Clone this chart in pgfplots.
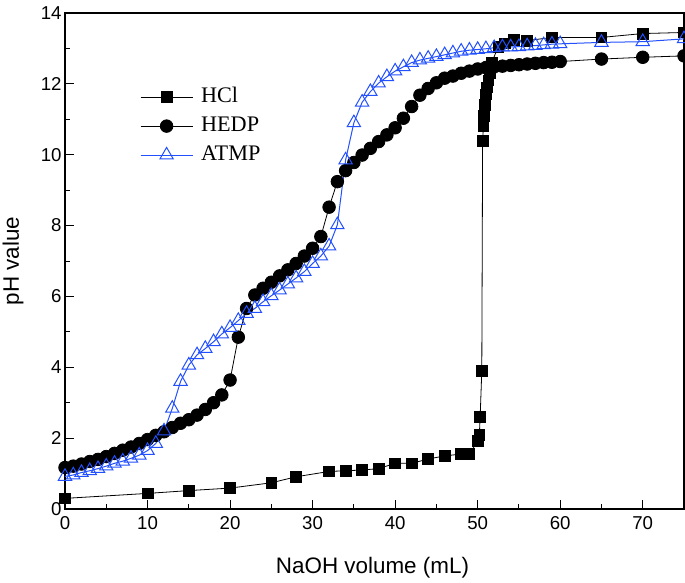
\documentclass[border=0pt]{standalone}
\usepackage{fontspec}
\setmainfont{Liberation Sans}
\newfontfamily\timesfont{Liberation Serif}
\usepackage{pgfplots}
\pgfplotsset{compat=1.18}
\definecolor{atmpblue}{RGB}{35,80,255}
\begin{document}
\begin{tikzpicture}
\begin{axis}[
  name=ax,
  scale only axis,
  width=619bp, height=496bp,
  xmin=0, xmax=75, ymin=0, ymax=14,
  xtick={0,10,...,70}, ytick={0,2,...,14},
  minor x tick num=1, minor y tick num=1,
  xtick pos=bottom, ytick pos=left,
  tick align=inside,
  major tick length=9bp, minor tick length=5bp,
  every tick/.style={black, line width=1bp},
  axis line style={line width=1.3bp},
  /pgf/number format/assume math mode=true,
  tick label style={font=\fontsize{18.7}{22}\selectfont},
  xticklabel style={yshift=-4bp},
  label style={font=\fontsize{22.5}{26}\selectfont},
  xlabel={NaOH volume (mL)},
  ylabel={pH value},
  xlabel style={at={(axis description cs:0.5,0)}, anchor=base, yshift=-64bp, xshift=-2bp},
  ylabel style={at={(axis description cs:0,0.5)}, anchor=center, yshift=52bp},
  legend style={draw=none, fill=none, font=\timesfont\fontsize{22.3}{25}\selectfont,
    at={(0.121,0.851)}, anchor=north west, row sep=9bp, inner sep=0pt,
    nodes={inner sep=0pt, text height=15bp, text depth=5bp},
    /tikz/every odd column/.append style={column sep=8bp}},
  legend cell align=left,
  legend image code/.code={\draw[mark repeat=2,mark phase=2] plot coordinates {(0bp,0bp) (26bp,0bp) (52bp,0bp)};},
]
\addplot[black, line width=0.8bp, mark=square*, mark size=5.4bp, mark options={solid}] coordinates {
(0,0.30) (10,0.44) (15,0.52) (20,0.59) (25,0.74) (28,0.91) (32,1.06) (34,1.08) (36,1.10) (38,1.14)
(40,1.29) (42,1.29) (44,1.41) (46,1.50) (48,1.55) (49,1.55) (50,1.92) (50.2,2.09) (50.3,2.59) (50.5,3.90)
(50.6,10.40) (50.7,10.80) (50.8,11.10) (50.9,11.40) (51.0,11.70) (51.1,11.90) (51.3,12.10) (51.5,12.30) (51.7,12.60)
(52.5,13.05) (53.3,13.14) (54.4,13.24) (56,13.22) (59,13.31) (65,13.31) (70,13.42) (75,13.45)
};
\addlegendentry{HCl}
\addplot[black, line width=0.8bp, mark=*, mark size=6.3bp, mark options={solid}] coordinates {
(0,1.17) (1,1.21) (2,1.27) (3,1.34) (4,1.40) (5,1.48) (6,1.57) (7,1.66) (8,1.75) (9,1.85)
(10,1.96) (11,2.08) (12,2.18) (13,2.30) (14,2.42) (15,2.52) (16,2.65) (17,2.81) (18,3.00) (19,3.22)
(20,3.64) (21,4.85) (22,5.66) (23,6.04) (24,6.23) (25,6.40) (26,6.58) (27,6.75) (28,6.93) (29,7.14)
(30,7.36) (31,7.69) (32,8.52) (33,9.24) (34,9.55) (35,9.78) (36,9.99) (37,10.18) (38,10.37) (39,10.56)
(40,10.76) (41,11.03) (42,11.36) (43,11.68) (44,11.87) (45,12.03) (46,12.16) (47,12.22) (48,12.30) (49,12.36)
(50,12.42) (51,12.46) (52,12.48) (53,12.50) (54,12.52) (55,12.54) (56,12.56) (57,12.58) (58,12.60) (59,12.61)
(60,12.63) (65,12.70) (70,12.75) (75,12.79)
};
\addlegendentry{HEDP}
\addplot[atmpblue, line width=1bp, mark=triangle, mark size=7.7bp, mark options={solid, fill=white, line width=1bp}] coordinates {
(0,0.92) (1,0.96) (2,1.03) (3,1.08) (4,1.14) (5,1.21) (6,1.29) (7,1.35) (8,1.43) (9,1.52)
(10,1.65) (11,1.85) (12,2.20) (13,2.84) (14,3.60) (15,4.06) (16,4.35) (17,4.53) (18,4.72) (19,4.94)
(20,5.12) (21,5.32) (22,5.52) (23,5.66) (24,5.85) (25,6.02) (26,6.18) (27,6.35) (28,6.52) (29,6.70)
(30,6.93) (31,7.14) (32,7.42) (33,8.02) (34,9.85) (35,10.90) (36,11.48) (37,11.78) (38,12.02) (39,12.20)
(40,12.36) (41,12.48) (42,12.60) (43,12.67) (44,12.72) (45,12.77) (46,12.82) (47,12.87) (48,12.92) (49,12.95)
(50,12.97) (51,12.99) (52,13.02) (53,13.04) (54,13.04) (55,13.05) (56,13.07) (57,13.08) (58,13.10) (59,13.12)
(60,13.13) (65,13.17) (70,13.19) (75,13.27)
};
\addlegendentry{ATMP}
\end{axis}
\pgfresetboundingbox
\path ([xshift=-65bp,yshift=-73bp]ax.south west) rectangle ([xshift=1bp,yshift=13bp]ax.north east);
\end{tikzpicture}
\end{document}
